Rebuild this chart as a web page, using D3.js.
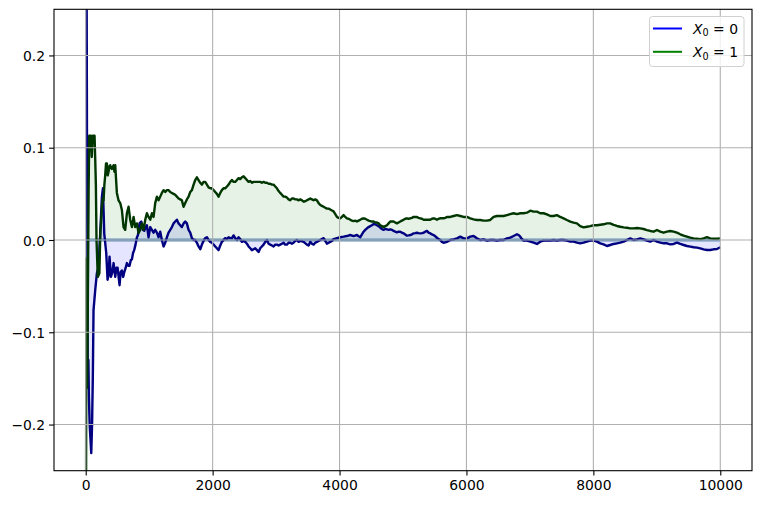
<!DOCTYPE html>
<html><head><meta charset="utf-8">
<script src="https://cdn.jsdelivr.net/npm/d3@7"></script>
<style>body{margin:0;background:#fff}svg{display:block}text{font-family:"DejaVu Sans",sans-serif}</style>
</head><body><svg id="c" width="760" height="505"></svg>
<script>
const xTicks = [0, 2000, 4000, 6000, 8000, 10000];
const yTicks = [-0.2, -0.1, 0.0, 0.1, 0.2];
const seriesNames = ["0", "1"];
// [iteration, running average minus stationary value], X0 = 0
const seriesX0_0 = [[0,0.9],[12,0.35],[20,0.1],[27,-0.05],[33,-0.155],[42,-0.13],[50,-0.17],[62,-0.2],[87,-0.231],[100,-0.2],[112,-0.148],[123,-0.076],[150,-0.054],[176,-0.036],[202,-0.029],[228,0.007],[255,0.047],[271,0.056],[292,0.007],[323,-0.014],[344,-0.043],[360,-0.038],[375,-0.018],[397,-0.04],[418,-0.035],[439,-0.025],[465,-0.04],[485,-0.03],[502,-0.03],[533,-0.049],[550,-0.035],[570,-0.033],[590,-0.04],[607,-0.035],[630,-0.03],[649,-0.025],[670,-0.028],[691,-0.028],[710,-0.022],[728,-0.021],[746,-0.014],[764,-0.011],[785,-0.005],[807,0.003],[822,0.005],[848,0.018],[875,0.02],[900,0.011],[922,0.01],[945,0.014],[964,0.016],[990,0.003],[1017,0.014],[1043,0.011],[1069,0.008],[1095,0.011],[1122,0.008],[1148,0.003],[1174,0.009],[1200,0],[1227,-0.007],[1253,-0.003],[1279,0.003],[1305,0.008],[1332,0.011],[1358,0.014],[1384,0.018],[1410,0.02],[1437,0.022],[1463,0.018],[1489,0.016],[1515,0.014],[1542,0.018],[1568,0.02],[1594,0.018],[1621,0.011],[1647,0.008],[1673,0.002],[1700,0],[1726,0],[1752,-0.003],[1778,-0.007],[1805,-0.01],[1831,-0.005],[1857,-0.001],[1883,0.002],[1910,0.003],[1936,0],[1962,-0.002],[1988,-0.003],[2015,-0.005],[2041,-0.007],[2067,-0.009],[2093,-0.011],[2120,-0.006],[2146,-0.002],[2172,0],[2198,0.002],[2225,0.001],[2251,0.003],[2278,0.002],[2304,0.002],[2330,0.005],[2356,0.002],[2383,0],[2409,0.003],[2435,0.001],[2461,-0.002],[2488,-0.001],[2514,-0.002],[2540,-0.004],[2566,-0.007],[2593,-0.009],[2619,-0.011],[2645,-0.01],[2671,-0.009],[2698,-0.011],[2724,-0.013],[2750,-0.009],[2776,-0.007],[2803,-0.005],[2830,-0.002],[2855,0],[2882,-0.004],[2908,-0.005],[2935,-0.006],[2960,-0.007],[2987,-0.005],[3013,-0.005],[3040,-0.006],[3065,-0.005],[3092,-0.004],[3118,-0.003],[3144,-0.005],[3170,-0.005],[3197,-0.003],[3223,-0.003],[3249,-0.004],[3275,-0.003],[3302,-0.001],[3328,0],[3355,-0.002],[3381,-0.001],[3434,-0.002],[3486,-0.005],[3513,-0.006],[3539,-0.002],[3565,-0.004],[3591,-0.005],[3617,-0.003],[3644,-0.002],[3670,-0.001],[3696,0],[3722,0.001],[3749,0.002],[3775,-0.001],[3801,-0.004],[3828,-0.003],[3854,-0.002],[3880,-0.001],[3906,0.001],[3959,0.002],[4011,0.003],[4064,0.0036],[4116,0.0043],[4169,0.0054],[4221,0.0043],[4274,0.0054],[4300,0.004],[4327,0.003],[4353,0.006],[4379,0.009],[4405,0.011],[4432,0.0127],[4458,0.014],[4484,0.015],[4510,0.016],[4537,0.0173],[4563,0.017],[4589,0.016],[4615,0.015],[4642,0.0133],[4668,0.012],[4694,0.011],[4720,0.012],[4747,0.0116],[4773,0.011],[4799,0.0116],[4826,0.011],[4852,0.0098],[4878,0.009],[4904,0.0083],[4930,0.009],[4957,0.009],[4983,0.008],[5009,0.0072],[5036,0.006],[5062,0.0047],[5088,0.005],[5114,0.0054],[5140,0.006],[5167,0.0072],[5193,0.0075],[5219,0.0079],[5245,0.0075],[5272,0.0072],[5298,0.0075],[5325,0.0079],[5351,0.009],[5377,0.0098],[5403,0.008],[5430,0.0072],[5456,0.006],[5482,0.0054],[5508,0.004],[5535,0.0025],[5561,0.001],[5587,0],[5613,-0.002],[5640,-0.003],[5666,-0.0025],[5692,-0.002],[5718,-0.001],[5745,0],[5798,0.0007],[5850,0.0018],[5903,0.0036],[5955,0.0018],[6008,0.0018],[6060,0.0036],[6113,0.0043],[6165,0.0018],[6218,0],[6270,0.0007],[6323,-0.0007],[6375,0],[6428,0],[6480,-0.0007],[6533,0],[6585,0],[6638,0.0018],[6690,0.0025],[6743,0.0043],[6796,0.0062],[6822,0.0054],[6848,0.0036],[6875,0.001],[6901,-0.0007],[6953,-0.0007],[7006,-0.0018],[7058,-0.0029],[7111,-0.0043],[7163,-0.0018],[7216,-0.0007],[7268,-0.0007],[7321,-0.0007],[7373,0],[7426,-0.0007],[7478,0],[7531,0],[7583,-0.0007],[7636,-0.0018],[7688,-0.0018],[7741,-0.0029],[7793,-0.0036],[7846,-0.0029],[7898,-0.0018],[7951,-0.0007],[8003,-0.0007],[8056,-0.0018],[8109,-0.0036],[8161,-0.0047],[8214,-0.0065],[8266,-0.0054],[8319,-0.0043],[8372,-0.0036],[8424,-0.0029],[8477,-0.0018],[8529,0],[8582,0.0018],[8634,0],[8687,0.0007],[8739,0.0018],[8792,0.0007],[8844,-0.0007],[8897,-0.0018],[8949,0],[9002,-0.0018],[9055,-0.0029],[9107,-0.0036],[9160,-0.0036],[9212,-0.0047],[9265,-0.0043],[9317,-0.0029],[9370,-0.0043],[9422,-0.0054],[9475,-0.0065],[9527,-0.0072],[9580,-0.0079],[9632,-0.0083],[9685,-0.009],[9737,-0.0101],[9790,-0.0108],[9842,-0.0108],[9895,-0.0101],[9948,-0.0098],[10000,-0.0079]];
// X0 = 1
const seriesX0_1 = [[0,-0.9],[5,-0.3],[10,-0.02],[15,-0.03],[22,-0.16],[30,-0.1],[45,0.05],[55,0.113],[80,0.113],[95,0.09],[110,0.113],[139,0.113],[150,0.087],[160,0.06],[170,0],[190,-0.04],[215,-0.036],[230,0.008],[242,0.02],[255,0.036],[268,0.045],[281,0.043],[294,0.06],[307,0.07],[320,0.083],[333,0.083],[346,0.07],[360,0.074],[373,0.08],[386,0.081],[399,0.078],[412,0.077],[425,0.079],[439,0.081],[452,0.074],[465,0.081],[491,0.051],[517,0.043],[544,0.04],[570,0.0325],[596,0.014],[622,0.011],[649,0.029],[675,0.036],[701,0.022],[728,0.014],[754,0.025],[780,0.014],[806,0.018],[833,0.0076],[859,0.011],[885,0.018],[912,0.011],[938,0.022],[964,0.029],[990,0.025],[1017,0.022],[1043,0.029],[1069,0.025],[1095,0.04],[1122,0.047],[1148,0.043],[1174,0.047],[1200,0.051],[1227,0.054],[1253,0.052],[1279,0.054],[1305,0.054],[1332,0.052],[1358,0.051],[1384,0.05],[1410,0.049],[1437,0.047],[1463,0.045],[1489,0.044],[1515,0.043],[1542,0.036],[1568,0.04],[1594,0.044],[1621,0.047],[1647,0.052],[1673,0.054],[1700,0.06],[1726,0.065],[1752,0.068],[1778,0.065],[1805,0.062],[1831,0.06],[1857,0.063],[1883,0.063],[1910,0.06],[1936,0.057],[1962,0.056],[1988,0.056],[2015,0.054],[2041,0.052],[2067,0.05],[2093,0.047],[2120,0.051],[2146,0.054],[2172,0.056],[2198,0.056],[2225,0.058],[2251,0.06],[2278,0.063],[2304,0.065],[2330,0.063],[2356,0.063],[2383,0.065],[2409,0.067],[2435,0.066],[2461,0.068],[2488,0.069],[2514,0.067],[2540,0.065],[2566,0.063],[2593,0.064],[2619,0.062],[2645,0.063],[2671,0.063],[2698,0.063],[2724,0.063],[2750,0.063],[2776,0.062],[2803,0.063],[2830,0.062],[2855,0.062],[2882,0.061],[2908,0.061],[2935,0.06],[2960,0.06],[2987,0.058],[3013,0.056],[3040,0.053],[3065,0.051],[3092,0.049],[3118,0.047],[3144,0.047],[3170,0.046],[3197,0.044],[3223,0.043],[3249,0.045],[3275,0.045],[3302,0.044],[3328,0.044],[3355,0.043],[3381,0.044],[3408,0.043],[3434,0.0415],[3460,0.042],[3486,0.043],[3513,0.044],[3539,0.045],[3565,0.044],[3591,0.043],[3617,0.044],[3644,0.043],[3670,0.04],[3696,0.038],[3722,0.037],[3749,0.036],[3775,0.035],[3801,0.034],[3828,0.034],[3854,0.033],[3880,0.032],[3906,0.031],[3933,0.028],[3959,0.025],[3985,0.024],[4011,0.0235],[4037,0.025],[4064,0.027],[4090,0.025],[4116,0.0235],[4143,0.023],[4169,0.022],[4195,0.021],[4221,0.0205],[4248,0.021],[4274,0.02],[4300,0.021],[4327,0.022],[4353,0.023],[4379,0.0235],[4405,0.023],[4432,0.022],[4458,0.021],[4484,0.0205],[4510,0.02],[4537,0.02],[4563,0.019],[4589,0.019],[4615,0.018],[4642,0.016],[4668,0.015],[4694,0.014],[4720,0.015],[4747,0.016],[4773,0.018],[4799,0.02],[4826,0.02],[4852,0.02],[4878,0.019],[4904,0.018],[4930,0.019],[4957,0.02],[4983,0.021],[5009,0.022],[5036,0.023],[5062,0.0235],[5088,0.023],[5114,0.0235],[5140,0.024],[5167,0.025],[5193,0.025],[5219,0.025],[5245,0.024],[5272,0.0235],[5298,0.023],[5325,0.022],[5351,0.022],[5377,0.022],[5403,0.022],[5430,0.022],[5456,0.023],[5482,0.0235],[5508,0.023],[5535,0.022],[5561,0.023],[5587,0.0235],[5613,0.0235],[5640,0.0235],[5666,0.024],[5692,0.025],[5718,0.025],[5745,0.025],[5798,0.026],[5850,0.027],[5903,0.026],[5955,0.025],[6008,0.025],[6060,0.0235],[6113,0.0224],[6165,0.0217],[6218,0.0217],[6270,0.021],[6323,0.021],[6375,0.0217],[6428,0.025],[6480,0.026],[6533,0.026],[6585,0.026],[6638,0.027],[6690,0.028],[6743,0.029],[6796,0.028],[6848,0.029],[6901,0.029],[6953,0.0296],[7006,0.0318],[7058,0.0307],[7111,0.0307],[7163,0.029],[7216,0.029],[7268,0.0278],[7321,0.026],[7373,0.026],[7426,0.027],[7478,0.025],[7531,0.0235],[7583,0.0217],[7636,0.02],[7688,0.0188],[7741,0.018],[7793,0.015],[7846,0.0137],[7898,0.0144],[7951,0.015],[8003,0.016],[8056,0.016],[8109,0.0165],[8161,0.017],[8214,0.018],[8266,0.018],[8319,0.0163],[8372,0.0152],[8424,0.0144],[8477,0.0137],[8529,0.0133],[8582,0.0126],[8634,0.0126],[8687,0.013],[8739,0.0126],[8792,0.0119],[8844,0.0108],[8897,0.0098],[8949,0.009],[9002,0.0108],[9055,0.009],[9107,0.0079],[9160,0.009],[9212,0.0098],[9265,0.009],[9317,0.0079],[9370,0.0062],[9422,0.0047],[9475,0.0036],[9527,0.0025],[9580,0.0018],[9632,0.0014],[9685,0.001],[9737,0.0018],[9790,0.003],[9842,0.0018],[9895,0.0014],[9948,0.0014],[10000,0.0018]];
const zeroLine = [[0,0],[10000,0]];

const L = 54, R = 752, T = 9.3, B = 470.7;
const svg = d3.select("#c");
const x = d3.scaleLinear().domain([-500, 10500]).range([L, R]);
const y = d3.scaleLinear().domain([-0.25, 0.25]).range([B, T]);

svg.append("defs").append("clipPath").attr("id","clip")
  .append("rect").attr("x",L).attr("y",T).attr("width",R-L).attr("height",B-T);
const plot = svg.append("g").attr("clip-path","url(#clip)");

const area = d3.area().x(d=>x(d[0])).y0(y(0)).y1(d=>y(d[1]));
const line = d3.line().x(d=>x(d[0])).y(d=>y(d[1]));

plot.append("path").datum(seriesX0_0).attr("d",area).attr("fill","#0000ff").attr("fill-opacity",0.1);
plot.append("path").datum(seriesX0_1).attr("d",area).attr("fill","#008000").attr("fill-opacity",0.1);

// grid
const grid = svg.append("g");
grid.selectAll(".gx").data(xTicks).enter().append("line")
  .attr("x1",d=>x(d)).attr("x2",d=>x(d)).attr("y1",T).attr("y2",B)
  .attr("stroke","#b0b0b0").attr("stroke-width",1.1);
grid.selectAll(".gy").data(yTicks).enter().append("line")
  .attr("y1",d=>y(d)).attr("y2",d=>y(d)).attr("x1",L).attr("x2",R)
  .attr("stroke","#b0b0b0").attr("stroke-width",1.1);

plot.append("path").datum(zeroLine).attr("d",line).attr("fill","none")
  .attr("stroke","#5e90bb").attr("stroke-width",2.8);
plot.append("path").datum(seriesX0_0).attr("d",line).attr("fill","none")
  .attr("stroke","#000080").attr("stroke-width",2.4).attr("stroke-linejoin","round");
plot.append("path").datum(seriesX0_1).attr("d",line).attr("fill","none")
  .attr("stroke","#003600").attr("stroke-width",2.4).attr("stroke-linejoin","round");

// axes
const xAxis = d3.axisBottom(x).tickValues(xTicks).tickSize(4.9).tickPadding(4).tickFormat(d3.format("d"));
const yAxis = d3.axisLeft(y).tickValues(yTicks).tickSize(4.9).tickPadding(4).tickFormat(d=>d3.format(".1f")(d).replace("-","\u2212"));
const gx = svg.append("g").attr("transform",`translate(0,${B})`).call(xAxis);
const gy = svg.append("g").attr("transform",`translate(${L},0)`).call(yAxis);
[gx,gy].forEach(g=>{
  g.select(".domain").remove();
  g.selectAll("line").attr("stroke","#000").attr("stroke-width",1.1);
  g.selectAll("text").attr("font-size","13.9px").attr("fill","#000").attr("font-family","DejaVu Sans");
});
gx.selectAll("text").attr("dy","0.72em");
gy.selectAll("text").attr("dy","0.36em");

svg.append("rect").attr("x",L).attr("y",T).attr("width",R-L).attr("height",B-T)
  .attr("fill","none").attr("stroke","#000").attr("stroke-width",1.1);

// legend
const lg = svg.append("g");
lg.append("rect").attr("x",649.5).attr("y",16.5).attr("width",94.5).attr("height",50).attr("rx",3)
  .attr("fill","#fff").attr("fill-opacity",0.8).attr("stroke","#d0d0d0").attr("stroke-width",1);
const legColors = ["#0000ff","#008000"];
seriesNames.forEach((n,i)=>{
  const yy = 28.5 + i*23.3;
  lg.append("line").attr("x1",653).attr("x2",682).attr("y1",yy).attr("y2",yy)
    .attr("stroke",legColors[i]).attr("stroke-width",2);
  const t = lg.append("text").attr("x",693).attr("y",yy+5.3).attr("font-size","13.9px").attr("fill","#000");
  t.append("tspan").attr("font-style","italic").text("X");
  t.append("tspan").attr("font-size","9.7px").attr("dy","2.5").text("0");
  t.append("tspan").attr("dy","-2.5").text(" = " + n);
});
</script></body></html>
